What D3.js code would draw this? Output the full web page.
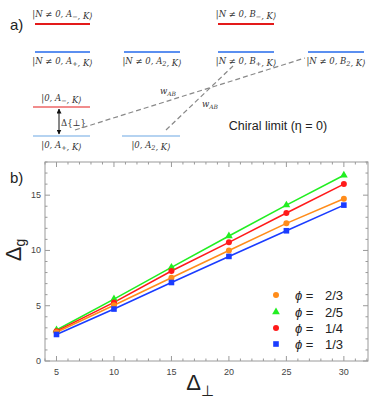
<!DOCTYPE html>
<html>
<head>
<meta charset="utf-8">
<script src="https://cdn.jsdelivr.net/npm/d3@7"></script>
<style>
  body { margin: 0; background: #fff; }
  svg { display: block; }
</style>
</head>
<body>
<div id="chart"></div>
<script>
// data
var deltaPerp = [5, 10, 15, 20, 25, 30];
var phi_2_3 = [2.6, 5.04, 7.53, 10.0, 12.45, 14.67];
var phi_2_5 = [2.8, 5.6, 8.47, 11.3, 14.1, 16.8];
var phi_1_4 = [2.7, 5.3, 8.14, 10.73, 13.38, 16.0];
var phi_1_3 = [2.4, 4.7, 7.1, 9.46, 11.78, 14.1];
var seriesNames = ["2/3", "2/5", "1/4", "1/3"];
var seriesColors = ["#ff8c1a", "#22ee22", "#ff1a1a", "#1a3cff"];
var seriesShapes = ["circle", "triangle", "circle", "square"];
var xTicks = [5, 10, 15, 20, 25, 30];
var yTicks = [0, 5, 10, 15];

var W = 374, H = 399;
var svg = d3.select("#chart").append("svg").attr("width", W).attr("height", H);

// ---------- panel a) ----------
var serif = "'DejaVu Serif', 'Liberation Serif', serif";

svg.append("text").attr("x", 10).attr("y", 30)
  .attr("font-family", "Arial, 'Liberation Sans', sans-serif").attr("font-size", 15)
  .attr("fill", "#222").text("a)");

function ket(x, y, parts) {
  // parts: array of [text, sub]
  var t = svg.append("text").attr("x", x).attr("y", y)
    .attr("text-anchor", "middle")
    .attr("font-family", serif).attr("font-style", "italic")
    .attr("font-size", 8.5).attr("fill", "#333");
  parts.forEach(function (p) {
    t.append("tspan").text(p[0]);
    if (p[1]) {
      t.append("tspan").attr("font-size", 6.5).attr("dy", 2).text(p[1]);
      t.append("tspan").attr("dy", -2).text("");
    }
  });
  return t;
}

var levels = [
  { x1: 35, x2: 90, y: 24, c: "#e31a1a", w: 2.2, label: [["|N ≠ 0, A", "−"], [", K⟩"]], ly: 17 },
  { x1: 218, x2: 274, y: 24, c: "#e31a1a", w: 2.2, label: [["|N ≠ 0, B", "−"], [", K⟩"]], ly: 17 },
  { x1: 35, x2: 90, y: 52, c: "#5b8ff0", w: 2.2, label: [["|N ≠ 0, A", "+"], [", K⟩"]], ly: 64 },
  { x1: 124, x2: 180, y: 52, c: "#5b8ff0", w: 2.2, label: [["|N ≠ 0, A", "2"], [", K⟩"]], ly: 64 },
  { x1: 218, x2: 274, y: 52, c: "#5b8ff0", w: 2.2, label: [["|N ≠ 0, B", "+"], [", K⟩"]], ly: 64 },
  { x1: 308, x2: 364, y: 52, c: "#5b8ff0", w: 2.2, label: [["|N ≠ 0, B", "2"], [", K⟩"]], ly: 64 },
  { x1: 33, x2: 90, y: 107, c: "#e31a1a", w: 1.2, label: [["|0, A", "−"], [", K⟩"]], ly: 101 },
  { x1: 33, x2: 90, y: 136, c: "#9cc4ec", w: 1.5, label: [["|0, A", "+"], [", K⟩"]], ly: 148 },
  { x1: 122, x2: 180, y: 136, c: "#9cc4ec", w: 1.5, label: [["|0, A", "2"], [", K⟩"]], ly: 148 }
];

levels.forEach(function (l) {
  svg.append("line").attr("x1", l.x1).attr("x2", l.x2).attr("y1", l.y).attr("y2", l.y)
    .attr("stroke", l.c).attr("stroke-width", l.w);
  ket((l.x1 + l.x2) / 2, l.ly, l.label);
});

// arrow
var defs = svg.append("defs");
defs.append("marker").attr("id", "ah").attr("viewBox", "0 0 10 10").attr("refX", 9).attr("refY", 5)
  .attr("markerWidth", 5).attr("markerHeight", 5).attr("orient", "auto-start-reverse")
  .append("path").attr("d", "M0,0L10,5L0,10z").attr("fill", "#111");
svg.append("line").attr("x1", 59).attr("x2", 59).attr("y1", 109).attr("y2", 134)
  .attr("stroke", "#111").attr("stroke-width", 1)
  .attr("marker-start", "url(#ah)").attr("marker-end", "url(#ah)");
svg.append("text").attr("x", 61).attr("y", 126).attr("font-family", serif)
  .attr("font-size", 8.5).attr("fill", "#333").text("Δ{⊥}");

// dashed couplings
svg.append("line").attr("x1", 75).attr("y1", 130).attr("x2", 305).attr("y2", 58)
  .attr("stroke", "#888").attr("stroke-width", 1.2).attr("stroke-dasharray", "5,3");
svg.append("line").attr("x1", 166).attr("y1", 130).attr("x2", 233).attr("y2", 66)
  .attr("stroke", "#888").attr("stroke-width", 1.2).attr("stroke-dasharray", "5,3");

function wab(x, y) {
  var t = svg.append("text").attr("x", x).attr("y", y).attr("font-family", serif)
    .attr("font-style", "italic").attr("font-size", 8.5).attr("fill", "#333");
  t.append("tspan").text("w");
  t.append("tspan").attr("font-size", 6).attr("dy", 2).text("AB");
}
wab(160, 94);
wab(202, 107);

svg.append("text").attr("x", 278).attr("y", 130).attr("text-anchor", "middle")
  .attr("font-family", "'Liberation Sans', Arial, sans-serif").attr("font-size", 12.5)
  .attr("fill", "#222").text("Chiral limit (η = 0)");

// ---------- panel b) ----------
svg.append("text").attr("x", 10).attr("y", 183)
  .attr("font-family", "Arial, 'Liberation Sans', sans-serif").attr("font-size", 15)
  .attr("fill", "#222").text("b)");

var pL = 45, pR = 368, pT = 162, pB = 361;
var x = d3.scaleLinear().domain([4, 32.1]).range([pL, pR]);
var y = d3.scaleLinear().domain([0, 18]).range([pB, pT]);

var axisColor = "#9a9a9a";
var g = svg.append("g");

g.append("rect").attr("x", pL).attr("y", pT).attr("width", pR - pL).attr("height", pB - pT)
  .attr("fill", "none").attr("stroke", axisColor).attr("stroke-width", 1);

var xMinor = d3.range(4, 33, 1);
var yMinor = d3.range(0, 18.01, 1);

function tickLines(vals, len, isX) {
  vals.forEach(function (v) {
    if (isX) {
      var px = x(v);
      g.append("line").attr("x1", px).attr("x2", px).attr("y1", pB).attr("y2", pB - len).attr("stroke", axisColor);
      g.append("line").attr("x1", px).attr("x2", px).attr("y1", pT).attr("y2", pT + len).attr("stroke", axisColor);
    } else {
      var py = y(v);
      g.append("line").attr("y1", py).attr("y2", py).attr("x1", pL).attr("x2", pL + len).attr("stroke", axisColor);
      g.append("line").attr("y1", py).attr("y2", py).attr("x1", pR).attr("x2", pR - len).attr("stroke", axisColor);
    }
  });
}
tickLines(xMinor.filter(function (v) { return v % 5 !== 0; }), 2.5, true);
tickLines(xTicks, 5, true);
tickLines(yMinor.filter(function (v) { return v % 5 !== 0; }), 2.5, false);
tickLines(yTicks, 5, false);

var tickFont = "'Liberation Sans', Arial, sans-serif";
xTicks.forEach(function (v) {
  g.append("text").attr("x", x(v)).attr("y", pB + 14).attr("text-anchor", "middle")
    .attr("font-family", tickFont).attr("font-size", 9).attr("fill", "#444").text(v);
});
yTicks.forEach(function (v) {
  g.append("text").attr("x", pL - 4).attr("y", y(v) + 3).attr("text-anchor", "end")
    .attr("font-family", tickFont).attr("font-size", 9).attr("fill", "#444").text(v);
});

// axis labels
var yl = svg.append("text").attr("transform", "translate(21,250) rotate(-90)")
  .attr("text-anchor", "middle").attr("font-family", tickFont).attr("font-size", 22).attr("fill", "#222");
yl.append("tspan").text("Δ");
yl.append("tspan").attr("font-size", 14).attr("dy", 4).text("g");

var xl = svg.append("text").attr("x", 200).attr("y", 390).attr("text-anchor", "middle")
  .attr("font-family", tickFont).attr("font-size", 22).attr("fill", "#222");
xl.append("tspan").text("Δ");
xl.append("tspan").attr("font-size", 15).attr("dy", 6).text("⊥");

// series
var allSeries = [phi_2_3, phi_2_5, phi_1_4, phi_1_3];
var line = d3.line().x(function (d, i) { return x(deltaPerp[i]); }).y(function (d) { return y(d); });

function marker(sel, shape, color, cx, cy) {
  if (shape === "circle") {
    sel.append("circle").attr("cx", cx).attr("cy", cy).attr("r", 3).attr("fill", color);
  } else if (shape === "square") {
    sel.append("rect").attr("x", cx - 2.8).attr("y", cy - 2.8).attr("width", 5.6).attr("height", 5.6).attr("fill", color);
  } else {
    sel.append("path").attr("d", d3.symbol(d3.symbolTriangle, 26)()).attr("transform", "translate(" + cx + "," + cy + ")").attr("fill", color);
  }
}

[1, 2, 0, 3].forEach(function (k) {
  var data = allSeries[k];
  g.append("path").datum(data).attr("d", line).attr("fill", "none")
    .attr("stroke", seriesColors[k]).attr("stroke-width", 1.6);
});
[1, 2, 0, 3].forEach(function (k) {
  allSeries[k].forEach(function (v, i) {
    marker(g, seriesShapes[k], seriesColors[k], x(deltaPerp[i]), y(v));
  });
});

// legend
var legRows = [295, 312, 328, 344];
seriesNames.forEach(function (n, k) {
  marker(g, seriesShapes[k], seriesColors[k], 276, legRows[k]);
  var t = g.append("text").attr("x", 295).attr("y", legRows[k] + 5)
    .attr("font-family", tickFont).attr("font-size", 13).attr("fill", "#222");
  t.append("tspan").attr("font-style", "italic").text("ϕ");
  t.append("tspan").text(" =");
  g.append("text").attr("x", 325).attr("y", legRows[k] + 5)
    .attr("font-family", tickFont).attr("font-size", 13).attr("fill", "#222").text(n);
});
</script>
</body>
</html>
